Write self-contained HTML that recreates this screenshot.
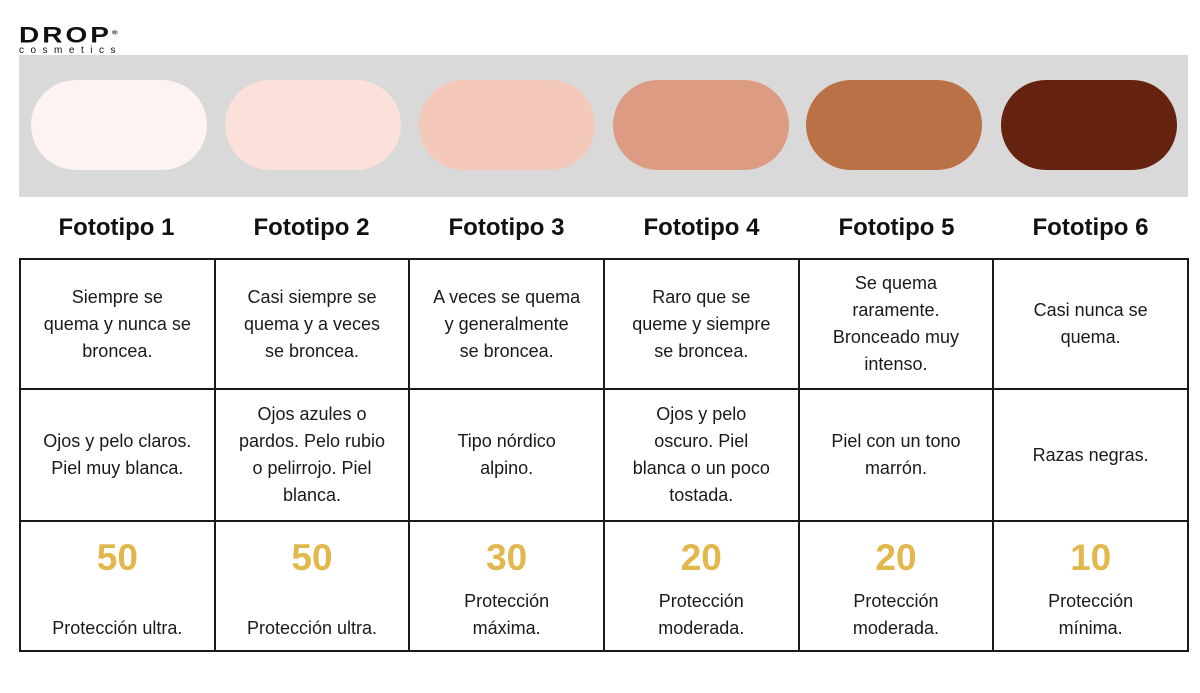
<!DOCTYPE html>
<html><head><meta charset="utf-8"><style>
body{margin:0;width:1200px;height:693px;background:#fff;position:relative;overflow:hidden;font-family:"Liberation Sans",sans-serif}
.logo{position:absolute;left:19px;top:24px}
.band{position:absolute;left:19px;top:55px;width:1169px;height:142px;background:#d9d9d9}
.pill{position:absolute;top:80px;width:176px;height:90px;border-radius:45px}
.h{position:absolute;top:214px;width:195px;text-align:center;font-weight:bold;font-size:24px;color:#111}
table{position:absolute;left:19px;top:258px;width:1170px;height:394px;border-collapse:collapse;table-layout:fixed}
td{border:2px solid #1a1a1a;text-align:center;vertical-align:middle;font-size:18px;line-height:27px;color:#1a1a1a;padding:0 4px}
tr.r1 td{height:128px}
tr.r2 td{height:130px}
td.p{vertical-align:top;position:relative}
.n{position:absolute;left:0;right:0;top:16px;font-size:37px;font-weight:bold;color:#e2b84c;line-height:40px}
.t{position:absolute;left:0;right:0;bottom:8px}
</style></head><body>
<div class="logo"><div style="font-size:28px;font-weight:bold;letter-spacing:3px;line-height:22px;color:#111;transform:scaleY(0.8);transform-origin:top left">DROP<sup style="font-size:8px">®</sup></div><div style="font-size:10px;letter-spacing:6.5px;line-height:8px;color:#111;margin-top:-2px">cosmetics</div></div>
<div class="band"></div>
<div class="pill" style="left:31px;background:#fdf3f1"></div>
<div class="pill" style="left:225px;background:#fbe1da"></div>
<div class="pill" style="left:419px;background:#f4c9b9"></div>
<div class="pill" style="left:613px;background:#de9b84"></div>
<div class="pill" style="left:806px;background:#bb7146"></div>
<div class="pill" style="left:1001px;background:#65230f"></div>
<div class="h" style="left:19px">Fototipo 1</div>
<div class="h" style="left:214px">Fototipo 2</div>
<div class="h" style="left:409px">Fototipo 3</div>
<div class="h" style="left:604px">Fototipo 4</div>
<div class="h" style="left:799px">Fototipo 5</div>
<div class="h" style="left:993px">Fototipo 6</div>
<table>
<tr class="r1"><td>Siempre se<br>quema y nunca se<br>broncea.</td><td>Casi siempre se<br>quema y a veces<br>se broncea.</td><td>A veces se quema<br>y generalmente<br>se broncea.</td><td>Raro que se<br>queme y siempre<br>se broncea.</td><td>Se quema<br>raramente.<br>Bronceado muy<br>intenso.</td><td>Casi nunca se<br>quema.</td></tr>
<tr class="r2"><td>Ojos y pelo claros.<br>Piel muy blanca.</td><td>Ojos azules o<br>pardos. Pelo rubio<br>o pelirrojo. Piel<br>blanca.</td><td>Tipo nórdico<br>alpino.</td><td>Ojos y pelo<br>oscuro. Piel<br>blanca o un poco<br>tostada.</td><td>Piel con un tono<br>marrón.</td><td>Razas negras.</td></tr>
<tr><td class="p"><div class="n">50</div><div class="t">Protección ultra.</div></td><td class="p"><div class="n">50</div><div class="t">Protección ultra.</div></td><td class="p"><div class="n">30</div><div class="t">Protección<br>máxima.</div></td><td class="p"><div class="n">20</div><div class="t">Protección<br>moderada.</div></td><td class="p"><div class="n">20</div><div class="t">Protección<br>moderada.</div></td><td class="p"><div class="n">10</div><div class="t">Protección<br>mínima.</div></td></tr>
</table>
</body></html>
